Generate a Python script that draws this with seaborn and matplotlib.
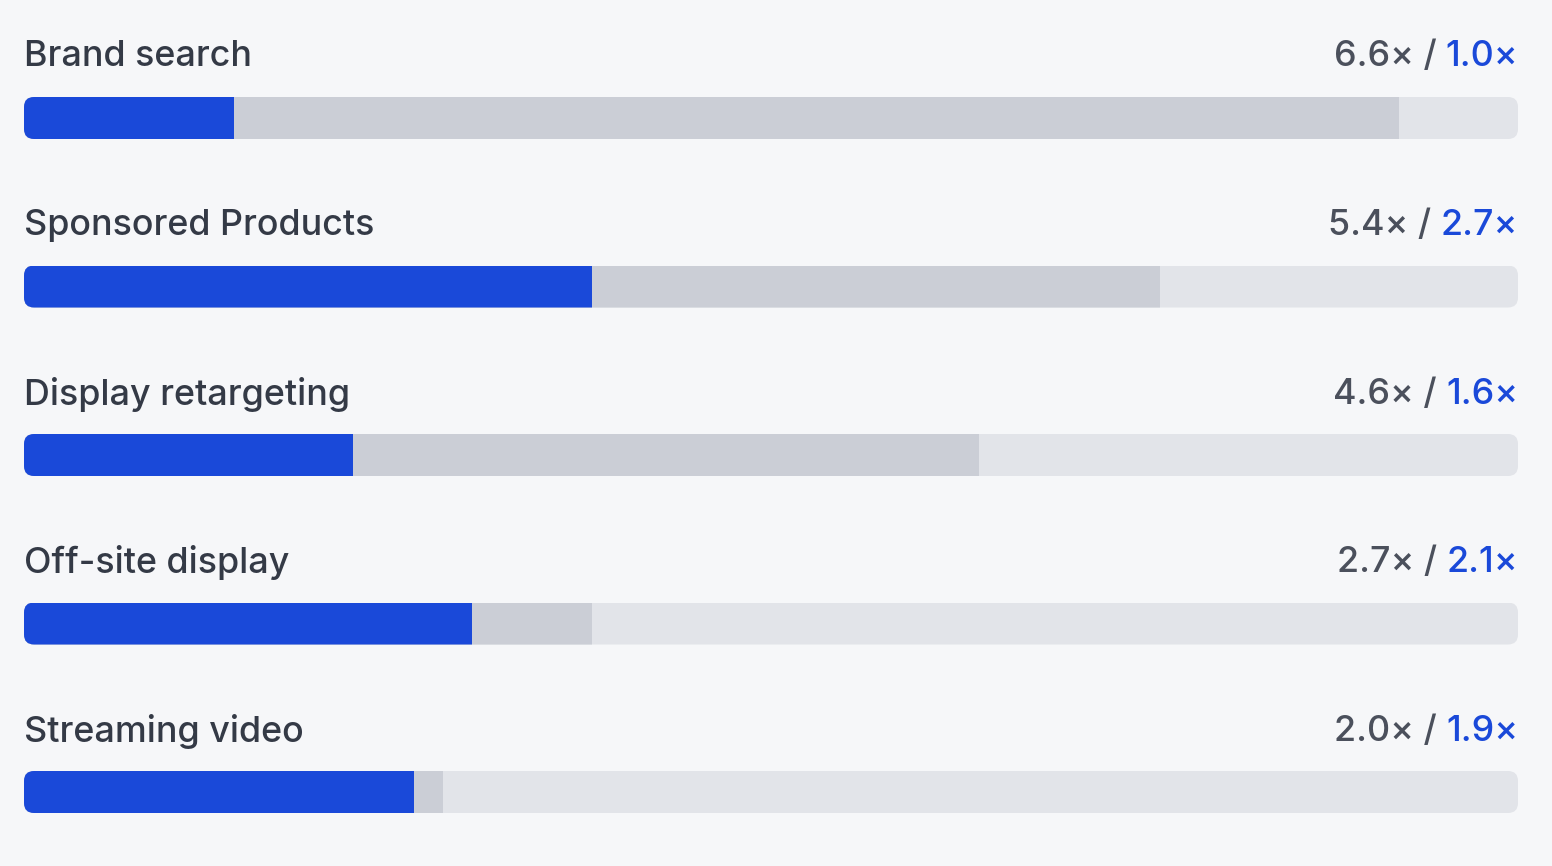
import matplotlib
matplotlib.use("Agg")
import matplotlib.pyplot as plt
from matplotlib.patches import FancyBboxPatch
import pandas as pd
import seaborn as sns

# data (bar lengths; labels show them rounded)
channels = ["Brand search", "Sponsored Products", "Display retargeting",
            "Off-site display", "Streaming video"]
gray_values = [6.56, 5.42, 4.56, 2.71, 2.00]
blue_values = [1.00, 2.71, 1.57, 2.14, 1.86]
scale_max = 7.13

BG = "#F6F7F9"
TRACK = "#E2E4E9"
GRAY = "#CBCED6"
BLUE = "#1A49D9"
LABEL = "#343A46"
VALUE = "#4B505C"

sns.set_theme(style="white")
plt.rcParams["font.family"] = ["Inter", "DejaVu Sans"]

df = pd.DataFrame({"channel": channels, "gray": gray_values, "blue": blue_values,
                   "track": [scale_max] * len(channels)})

W, H = 1552, 866
fig = plt.figure(figsize=(W / 100, H / 100), dpi=100, facecolor=BG)
left_px, right_px = 24, 1518
ax = fig.add_axes([left_px / W, 0, (right_px - left_px) / W, 1])
ax.set_facecolor(BG)

row_px = 168.5
first_px = 118
bar_h = 42 / row_px

for col, colr in [("track", TRACK), ("gray", GRAY), ("blue", BLUE)]:
    sns.barplot(data=df, x=col, y="channel", orient="h", color=colr,
                width=bar_h, saturation=1, ax=ax, linewidth=0)

ax.set_xlim(0, scale_max)
ax.set_ylim((H - first_px) / row_px, -first_px / row_px)
ax.axis("off")

# rounded track, bars clipped to it
rad_px = 10
rx = rad_px * scale_max / (right_px - left_px)
aspect = (right_px - left_px) / (row_px * scale_max)
n = len(channels)
for i in range(n):
    clip = FancyBboxPatch((0, i - bar_h / 2), scale_max, bar_h,
                          boxstyle=f"round,pad=0,rounding_size={rx}",
                          mutation_aspect=aspect, transform=ax.transData,
                          facecolor="none", edgecolor="none")
    ax.add_artist(clip)
    for k in range(3):
        ax.patches[k * n + i].set_clip_path(clip)

fs = 25.8
for i, ch in enumerate(channels):
    y = i - 61 / row_px
    ax.text(0, y, ch, ha="left", va="center", fontsize=fs, color=LABEL,
            fontweight="medium")
    bt = ax.text(scale_max, y, f"{blue_values[i]:.1f}×", ha="right", va="center",
                 fontsize=fs, color=BLUE, fontweight="medium")
    ax.annotate(f"{gray_values[i]:.1f}× /", xy=(0, 0), xycoords=bt,
                xytext=(-9, 0), textcoords="offset pixels",
                ha="right", va="bottom", fontsize=fs, color=VALUE,
                fontweight="medium")

fig.savefig("out.png", dpi=100, facecolor=BG)
